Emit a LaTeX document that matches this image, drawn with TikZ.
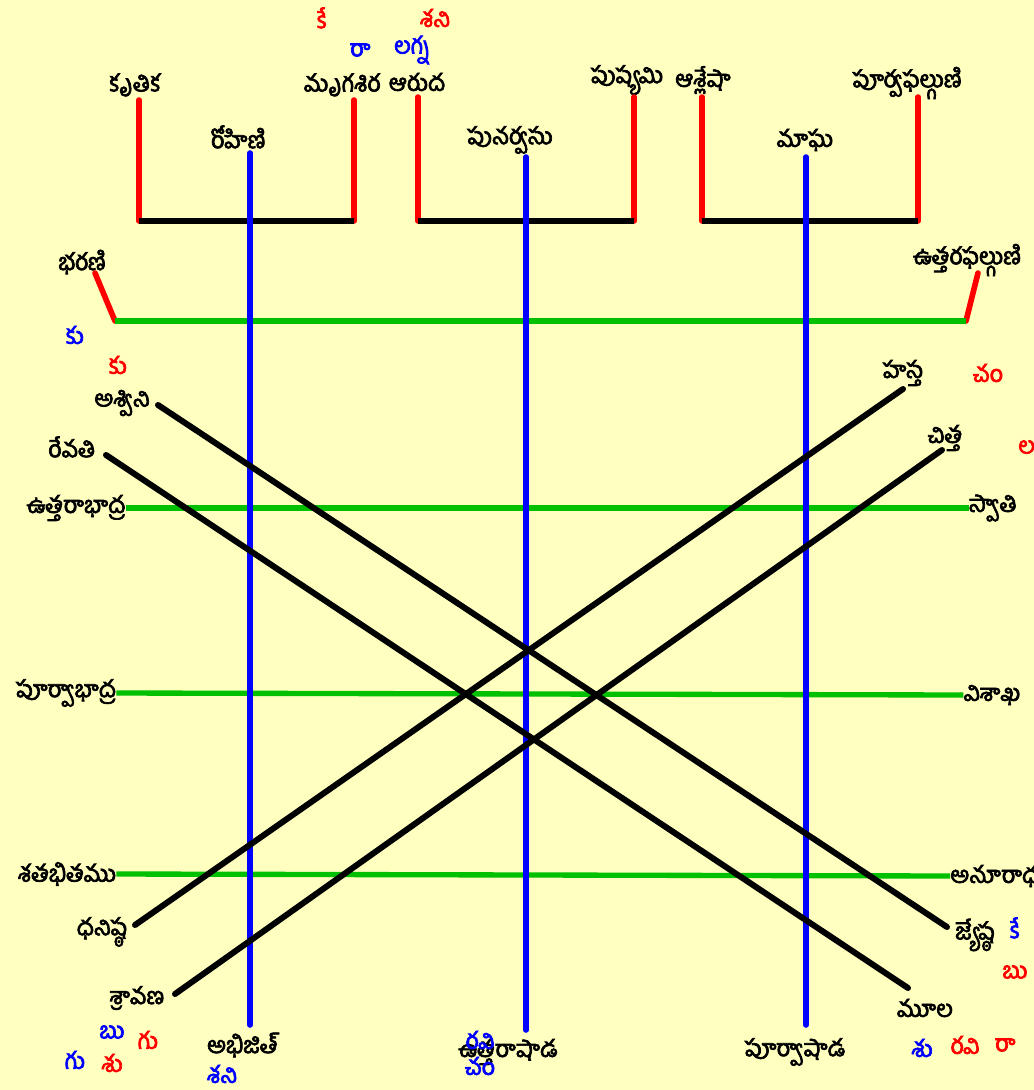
\documentclass[tikz,border=0pt]{standalone}
\usepackage{fontspec}
\newfontfamily\telfont[Script=Telugu,FakeBold=3]{Hind Guntur}
\definecolor{bgyellow}{HTML}{FFFFC0}
\definecolor{chakragreen}{HTML}{00C000}
\tikzset{
  nak/.style={font=\telfont\fontsize{17.5}{19}\selectfont, inner sep=0pt},
  graha/.style={nak, text=red},
  grahab/.style={nak, text=blue},
  redline/.style={red, line width=4.2pt, line cap=round},
  blueline/.style={blue, line width=4.2pt, line cap=round},
  greenline/.style={chakragreen, line width=4pt},
  blackline/.style={black, line width=4.5pt, line cap=round}
}
\begin{document}
\begin{tikzpicture}[x=0.75pt,y=-0.75pt]
  \fill[bgyellow] (0,0) rectangle (1034,1090);
  \useasboundingbox (0,0) rectangle (1034,1090);

  % top row of stars
  \node[nak] (krt) at (135,85) {కృతిక};
  \node[nak] (roh) at (238,137) {రోహిణి};
  \node[nak] (mrg) at (342,85) {మృగశిర};
  \node[nak] (aru) at (417,82) {ఆరుద};
  \node[nak] (pun) at (510,140) {పునర్వసు};
  \node[nak] (pus) at (627,80) {పుష్యమి};
  \node[nak] (asl) at (703,80) {ఆశ్లేషా};
  \node[nak] (mag) at (805,140) {మాఘ};
  \node[nak] (pph) at (907,83) {పూర్వఫల్గుణి};

  % side stars
  \node[nak] (bha) at (82,262) {భరణి};
  \node[nak] (uph) at (967,260) {ఉత్తరఫల్గుణి};
  \node[nak] (asv) at (122,403) {అశ్విని};
  \node[nak] (rev) at (72,447) {రేవతి};
  \node[nak] (has) at (903,373) {హస్త};
  \node[nak] (cit) at (945,438) {చిత్త};
  \node[nak] (ubh) at (76,508) {ఉత్తరాభాద్ర};
  \node[nak] (sva) at (993,508) {స్వాతి};
  \node[nak] (pbh) at (66,693) {పూర్వాభాద్ర};
  \node[nak] (vis) at (992,695) {విశాఖ};
  \node[nak] (sat) at (67,874) {శతభితము};
  \node[nak,anchor=west] (anu) at (950,876) {అనూరాధ};
  \node[nak] (dha) at (102,932) {ధనిష్ఠ};
  \node[nak] (jye) at (975,935) {జ్యేష్ఠ};
  \node[nak] (sra) at (137,998) {శ్రావణ};
  \node[nak] (mul) at (925,1008) {మూల};

  % bottom row
  \node[nak] (abh) at (242,1045) {అభిజిత్};
  \node[nak] (uas) at (508,1052) {ఉత్తరాషాడ};
  \node[nak] (pas) at (795,1052) {పూర్వాషాడ};

  % grahas
  \node[graha] (ke1) at (322,18) {కే};
  \node[graha] (sa1) at (435,18) {శని};
  \node[grahab] (ra1) at (360,50) {రా};
  \node[grahab] (lag) at (412,50) {లగ్న};
  \node[grahab] (ku1) at (75,335) {కు};
  \node[graha] (ku2) at (118,365) {కు};
  \node[graha] (ch1) at (988,373) {చం};
  \node[graha,anchor=west] (la1) at (1018,447) {ల};
  \node[grahab] (ke2) at (1015,928) {కే};
  \node[graha] (bu1) at (1015,972) {బు};
  \node[grahab] (bu2) at (112,1032) {బు};
  \node[graha] (gu1) at (148,1040) {గు};
  \node[grahab] (gu2) at (75,1060) {గు};
  \node[graha] (su1) at (112,1063) {శు};
  \node[grahab] (sa2) at (222,1074) {శని};
  \node[grahab] (rv1) at (480,1040) {రవి};
  \node[grahab] (ch2) at (480,1066) {చం};
  \node[grahab] (su2) at (922,1048) {శు};
  \node[graha] (rv2) at (965,1045) {రవి};
  \node[graha] (ra2) at (1005,1045) {రా};

  % line ends
  \coordinate (k1) at (139,100);  \coordinate (k2) at (139,221);
  \coordinate (m1) at (354,100);  \coordinate (m2) at (354,221);
  \coordinate (a1) at (418,97);   \coordinate (a2) at (418,221);
  \coordinate (p1) at (634,97);   \coordinate (p2) at (634,221);
  \coordinate (s1) at (702,97);   \coordinate (s2) at (702,221);
  \coordinate (f1) at (918,97);   \coordinate (f2) at (918,221);
  \coordinate (bt) at (95,273);   \coordinate (bb) at (115,321);
  \coordinate (ut) at (978,273);  \coordinate (ub) at (966,321);

  % red ticks and black bars
  \foreach \t/\b in {k1/k2, m1/m2, a1/a2, p1/p2, s1/s2, f1/f2, bt/bb, ut/ub}
    \draw[redline] (\t) -- (\b);
  \draw[blackline, line cap=butt] (k2) -- (m2) (a2) -- (p2) (s2) -- (f2);

  % green bars
  \draw[greenline] (bb) -- (ub);
  \draw[greenline] (ubh.east) -- (sva.west);
  \draw[greenline] (pbh.east) -- (vis.west);
  \draw[greenline] (sat.east) -- (anu.west);

  % blue verticals
  \draw[blueline] (250,153) -- (250,1025);
  \draw[blueline] (526,157) -- (526,1030);
  \draw[blueline] (806,157) -- (806,1025);

  % diagonals
  \draw[blackline] (158,405) -- (947,927);
  \draw[blackline] (106,455) -- (908,988);
  \draw[blackline] (903,389) -- (135,925);
  \draw[blackline] (942,450) -- (175,994);
\end{tikzpicture}
\end{document}
